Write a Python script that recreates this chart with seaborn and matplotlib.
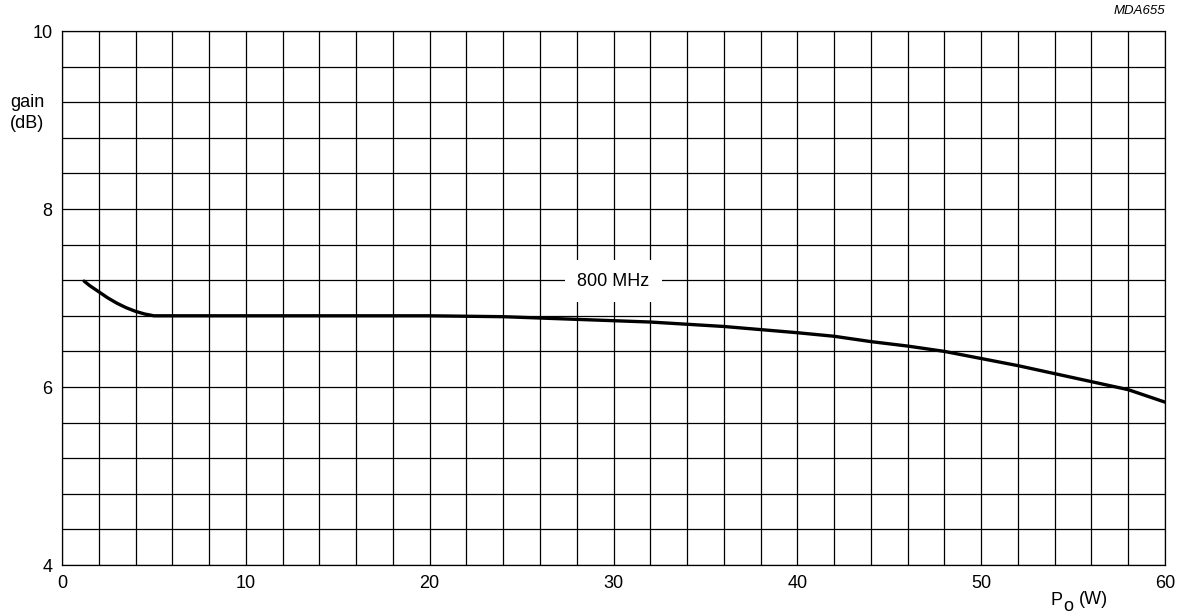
import matplotlib
matplotlib.use("Agg")
import matplotlib.pyplot as plt
import seaborn as sns
import pandas as pd
import numpy as np

# Curve (P_o in W, gain in dB)
p_out = [1.2, 1.5, 2, 2.5, 3, 3.5, 4, 4.5, 5, 6, 10, 15, 20, 24, 28, 32, 36, 40,
         42, 44, 46, 48, 50, 52, 54, 56, 58, 60]
gain = [7.19, 7.14, 7.07, 7.00, 6.94, 6.89, 6.85, 6.82, 6.80, 6.80, 6.80, 6.80, 6.80,
        6.79, 6.76, 6.73, 6.68, 6.61, 6.57, 6.51, 6.46, 6.40, 6.32, 6.24, 6.15, 6.06,
        5.97, 5.83]

x_ticks = [0, 10, 20, 30, 40, 50, 60]
y_ticks = [4, 6, 8, 10]
curve_label = "800 MHz"
fig_code = "MDA655"

sns.set_style("white")
plt.rcParams['font.family'] = ['Liberation Sans', 'DejaVu Sans']
plt.rcParams['text.color'] = 'black'
plt.rcParams['xtick.color'] = 'black'
plt.rcParams['ytick.color'] = 'black'

df = pd.DataFrame({"p_out": p_out, "gain": gain})

W, H = 1187, 614
fs = 13
fig = plt.figure(figsize=(W / 100, H / 100), dpi=100)
ax = fig.add_axes([62 / W, 1 - 565 / H, (1165 - 62) / W, (565 - 31) / H])

# grid every 2 W and 0.4 dB
for gx in np.arange(0, 61, 2):
    ax.axvline(gx, color="black", lw=0.9, zorder=1)
for gy in np.arange(4, 10.01, 0.4):
    ax.axhline(gy, color="black", lw=0.9, zorder=1)

sns.lineplot(data=df, x="p_out", y="gain", color="black", lw=2.4, ax=ax, zorder=3)

ax.set_xlim(0, 60)
ax.set_ylim(4, 10)
ax.set_xticks(x_ticks)
ax.set_yticks(y_ticks)
ax.tick_params(length=0, labelsize=fs, pad=7)
ax.set_xlabel("")
ax.set_ylabel("")
for s in ax.spines.values():
    s.set_color("black")
    s.set_linewidth(0.9)

ax.text(30, 7.19, curve_label, ha="center", va="center", fontsize=fs, zorder=4,
        bbox=dict(facecolor="white", edgecolor="none", pad=9))

fig.text(27 / W, 1 - 113 / H, "gain\n(dB)", ha="center", va="center", fontsize=fs,
         linespacing=1.25)
# P_o (W) with a large, low subscript like the reference
fig.text(1050 / W, 1 - 605 / H, "P", ha="left", va="baseline", fontsize=fs)
fig.text(1063 / W, 1 - 611 / H, "o", ha="left", va="baseline", fontsize=fs)
fig.text(1079 / W, 1 - 604 / H, "(W)", ha="left", va="baseline", fontsize=fs)
fig.text(1165 / W, 1 - 11 / H, fig_code, ha="right", va="center", fontsize=9.5,
         style="italic")

fig.savefig("out.png", dpi=100)
